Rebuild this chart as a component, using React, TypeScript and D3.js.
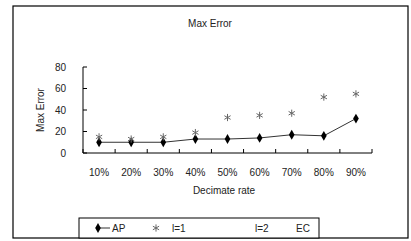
import * as d3 from 'd3';

const categories = ['10%', '20%', '30%', '40%', '50%', '60%', '70%', '80%', '90%'];
const apValues = [10, 10, 10, 13, 13, 14, 17, 16, 32];
const l1Values = [15, 13, 15, 19, 33, 35, 37, 52, 55];
const yTicks = [0, 20, 40, 60, 80];
const legendItems = ['AP', 'l=1', 'l=2', 'EC'];

export default function App() {
  const width = 411;
  const height = 241;
  const font = 'Liberation Sans, Arial, sans-serif';

  const x = d3.scaleBand<string>().domain(categories).range([83, 372]).padding(0);
  const y = d3.scaleLinear().domain([0, 80]).range([153, 67]);
  const cx = (c: string) => (x(c) || 0) + x.bandwidth() / 2;

  const apLine = d3.line<number>()
    .x((_, i) => cx(categories[i]))
    .y(d => y(d));

  const diamond = d3.symbol().type(d3.symbolDiamond).size(28)() || '';
  const star = d3.symbol().type(d3.symbolAsterisk).size(36)() || '';

  const boundaries = categories.map(c => x(c) || 0).concat([x.range()[1]]);

  // legend x positions
  const legendX = [112, 172, 255, 296];

  return (
    <svg width={width} height={height} style={{ position: 'absolute', left: 0, top: 0, background: '#fff' }}>
      {/* outer frame */}
      <rect x={13} y={6} width={395} height={232} fill="none" stroke="#000" strokeWidth={1.2} />

      <text x={210} y={27} textAnchor="middle" fontFamily={font} fontSize={10} fill="#222">Max Error</text>

      {/* y axis */}
      <line x1={83} x2={83} y1={y(80)} y2={y(0)} stroke="#000" />
      {yTicks.map(t => (
        <g key={t}>
          <line x1={83} x2={87} y1={y(t)} y2={y(t)} stroke="#000" />
          <text x={66} y={y(t)} dy="0.35em" textAnchor="end" fontFamily={font} fontSize={10} fill="#222">{t}</text>
        </g>
      ))}
      <text transform={`translate(40,${(y(0) + y(80)) / 2}) rotate(-90)`} textAnchor="middle" dy="0.35em"
        fontFamily={font} fontSize={10} fill="#222">Max Error</text>

      {/* x axis */}
      <line x1={83} x2={372} y1={y(0)} y2={y(0)} stroke="#000" />
      {boundaries.map((b, i) => (
        <line key={i} x1={b} x2={b} y1={y(0)} y2={y(0) - 4} stroke="#000" />
      ))}
      {categories.map(c => (
        <text key={c} x={cx(c)} y={172} dy="0.35em" textAnchor="middle" fontFamily={font} fontSize={10} fill="#222">{c}</text>
      ))}
      <text x={224} y={190} dy="0.35em" textAnchor="middle" fontFamily={font} fontSize={10} fill="#222">Decimate rate</text>

      {/* AP series */}
      <path d={apLine(apValues) || ''} fill="none" stroke="#333" strokeWidth={1} />
      {apValues.map((v, i) => (
        <path key={i} d={diamond} transform={`translate(${cx(categories[i])},${y(v)})`} fill="#000" />
      ))}

      {/* l=1 series */}
      {l1Values.map((v, i) => (
        <path key={i} d={star} transform={`translate(${cx(categories[i])},${y(v)})`} fill="none" stroke="#666" strokeWidth={1} />
      ))}

      {/* legend */}
      <rect x={79} y={218} width={240} height={20} fill="#fff" stroke="#000" strokeWidth={1} />
      <line x1={96} x2={110} y1={228} y2={228} stroke="#333" />
      <path d={diamond} transform="translate(98,228)" fill="#000" />
      <path d={star} transform="translate(156,228)" fill="none" stroke="#666" />
      {legendItems.map((t, i) => (
        <text key={t} x={legendX[i]} y={228} dy="0.35em" fontFamily={font} fontSize={10} fill="#222">{t}</text>
      ))}
    </svg>
  );
}
